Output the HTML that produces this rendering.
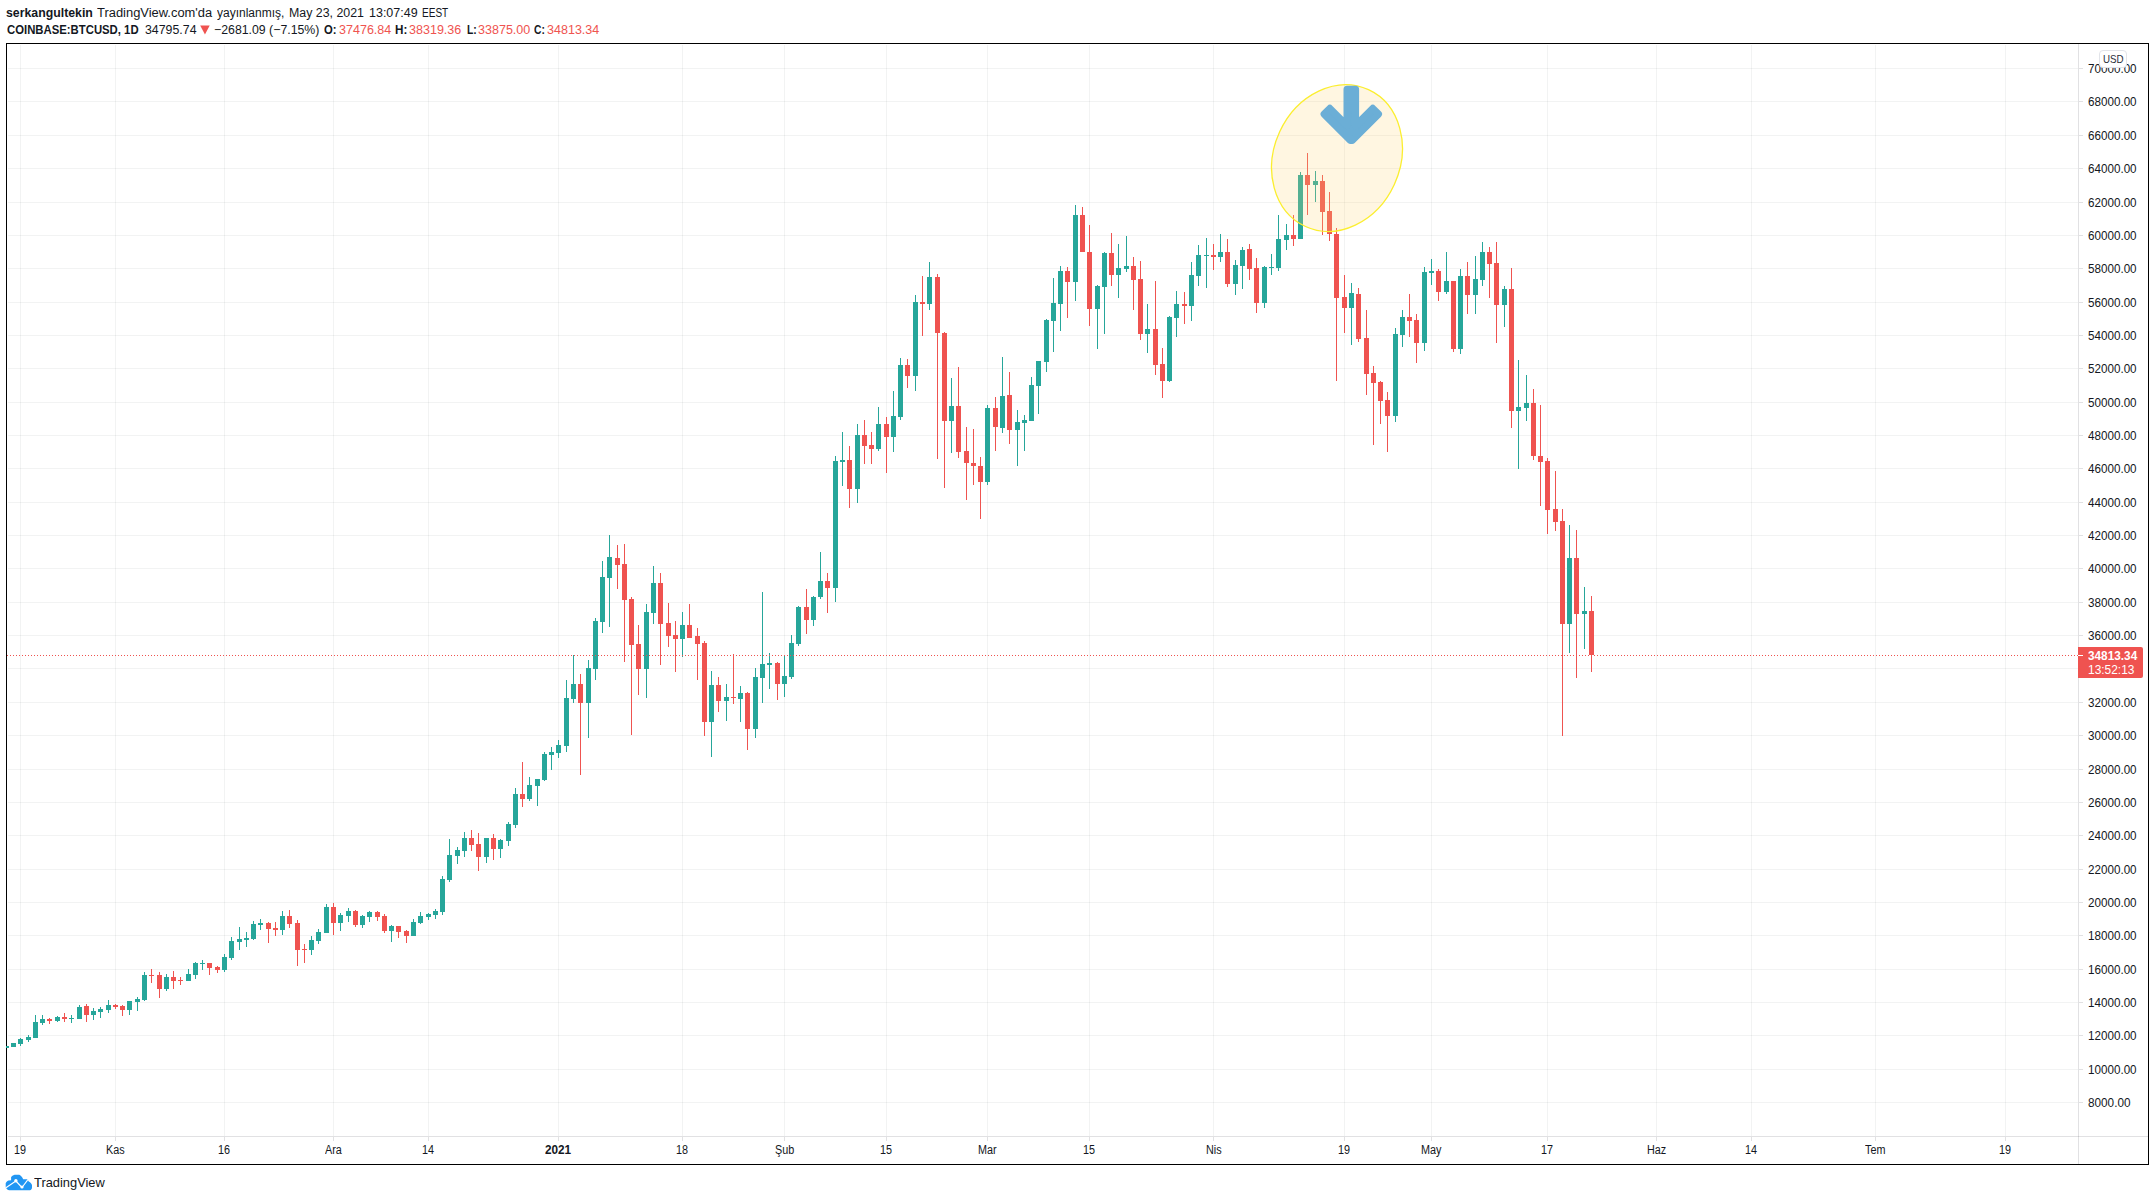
<!DOCTYPE html>
<html lang="tr"><head><meta charset="utf-8"><title>BTCUSD</title>
<style>
html,body{margin:0;padding:0;background:#fff;}
body{width:2155px;height:1201px;position:relative;overflow:hidden;font-family:"Liberation Sans", sans-serif;}
.t{position:absolute;white-space:pre;line-height:16px;transform-origin:0 50%;}
#box{position:absolute;left:6px;top:43px;width:2141px;height:1120px;border:1px solid #000;}
#plabel{position:absolute;left:2078px;top:647px;width:65px;height:31px;background:#ef5350;border-radius:0 2px 2px 0;}
#usd{position:absolute;left:2099px;top:50px;width:26px;height:16px;border:1px solid #e2e4e9;border-radius:4px;background:#fff;}
svg{position:absolute;left:0;top:0;}
</style></head><body>
<div id="box"></div>
<svg width="2155" height="1201" viewBox="0 0 2155 1201">
<g shape-rendering="crispEdges" fill="rgba(42,46,57,0.06)">
<rect x="8" y="68" width="2070" height="1"/>
<rect x="8" y="101" width="2070" height="1"/>
<rect x="8" y="135" width="2070" height="1"/>
<rect x="8" y="168" width="2070" height="1"/>
<rect x="8" y="202" width="2070" height="1"/>
<rect x="8" y="235" width="2070" height="1"/>
<rect x="8" y="268" width="2070" height="1"/>
<rect x="8" y="302" width="2070" height="1"/>
<rect x="8" y="335" width="2070" height="1"/>
<rect x="8" y="368" width="2070" height="1"/>
<rect x="8" y="402" width="2070" height="1"/>
<rect x="8" y="435" width="2070" height="1"/>
<rect x="8" y="468" width="2070" height="1"/>
<rect x="8" y="502" width="2070" height="1"/>
<rect x="8" y="535" width="2070" height="1"/>
<rect x="8" y="568" width="2070" height="1"/>
<rect x="8" y="602" width="2070" height="1"/>
<rect x="8" y="635" width="2070" height="1"/>
<rect x="8" y="668" width="2070" height="1"/>
<rect x="8" y="702" width="2070" height="1"/>
<rect x="8" y="735" width="2070" height="1"/>
<rect x="8" y="769" width="2070" height="1"/>
<rect x="8" y="802" width="2070" height="1"/>
<rect x="8" y="835" width="2070" height="1"/>
<rect x="8" y="869" width="2070" height="1"/>
<rect x="8" y="902" width="2070" height="1"/>
<rect x="8" y="935" width="2070" height="1"/>
<rect x="8" y="969" width="2070" height="1"/>
<rect x="8" y="1002" width="2070" height="1"/>
<rect x="8" y="1035" width="2070" height="1"/>
<rect x="8" y="1069" width="2070" height="1"/>
<rect x="8" y="1102" width="2070" height="1"/>
<rect x="20" y="45" width="1" height="1091"/>
<rect x="115" y="45" width="1" height="1091"/>
<rect x="224" y="45" width="1" height="1091"/>
<rect x="333" y="45" width="1" height="1091"/>
<rect x="428" y="45" width="1" height="1091"/>
<rect x="558" y="45" width="1" height="1091"/>
<rect x="682" y="45" width="1" height="1091"/>
<rect x="784" y="45" width="1" height="1091"/>
<rect x="886" y="45" width="1" height="1091"/>
<rect x="987" y="45" width="1" height="1091"/>
<rect x="1089" y="45" width="1" height="1091"/>
<rect x="1213" y="45" width="1" height="1091"/>
<rect x="1344" y="45" width="1" height="1091"/>
<rect x="1431" y="45" width="1" height="1091"/>
<rect x="1547" y="45" width="1" height="1091"/>
<rect x="1656" y="45" width="1" height="1091"/>
<rect x="1751" y="45" width="1" height="1091"/>
<rect x="1875" y="45" width="1" height="1091"/>
<rect x="2005" y="45" width="1" height="1091"/>
</g>
<g shape-rendering="crispEdges" fill="rgba(42,46,57,0.14)">
<rect x="2078" y="44" width="1" height="1120"/>
<rect x="8" y="1136" width="2140" height="1"/>
<rect x="2079" y="68" width="4" height="1"/>
<rect x="2079" y="101" width="4" height="1"/>
<rect x="2079" y="135" width="4" height="1"/>
<rect x="2079" y="168" width="4" height="1"/>
<rect x="2079" y="202" width="4" height="1"/>
<rect x="2079" y="235" width="4" height="1"/>
<rect x="2079" y="268" width="4" height="1"/>
<rect x="2079" y="302" width="4" height="1"/>
<rect x="2079" y="335" width="4" height="1"/>
<rect x="2079" y="368" width="4" height="1"/>
<rect x="2079" y="402" width="4" height="1"/>
<rect x="2079" y="435" width="4" height="1"/>
<rect x="2079" y="468" width="4" height="1"/>
<rect x="2079" y="502" width="4" height="1"/>
<rect x="2079" y="535" width="4" height="1"/>
<rect x="2079" y="568" width="4" height="1"/>
<rect x="2079" y="602" width="4" height="1"/>
<rect x="2079" y="635" width="4" height="1"/>
<rect x="2079" y="668" width="4" height="1"/>
<rect x="2079" y="702" width="4" height="1"/>
<rect x="2079" y="735" width="4" height="1"/>
<rect x="2079" y="769" width="4" height="1"/>
<rect x="2079" y="802" width="4" height="1"/>
<rect x="2079" y="835" width="4" height="1"/>
<rect x="2079" y="869" width="4" height="1"/>
<rect x="2079" y="902" width="4" height="1"/>
<rect x="2079" y="935" width="4" height="1"/>
<rect x="2079" y="969" width="4" height="1"/>
<rect x="2079" y="1002" width="4" height="1"/>
<rect x="2079" y="1035" width="4" height="1"/>
<rect x="2079" y="1069" width="4" height="1"/>
<rect x="2079" y="1102" width="4" height="1"/>
<rect x="20" y="1137" width="1" height="4"/>
<rect x="115" y="1137" width="1" height="4"/>
<rect x="224" y="1137" width="1" height="4"/>
<rect x="333" y="1137" width="1" height="4"/>
<rect x="428" y="1137" width="1" height="4"/>
<rect x="558" y="1137" width="1" height="4"/>
<rect x="682" y="1137" width="1" height="4"/>
<rect x="784" y="1137" width="1" height="4"/>
<rect x="886" y="1137" width="1" height="4"/>
<rect x="987" y="1137" width="1" height="4"/>
<rect x="1089" y="1137" width="1" height="4"/>
<rect x="1213" y="1137" width="1" height="4"/>
<rect x="1344" y="1137" width="1" height="4"/>
<rect x="1431" y="1137" width="1" height="4"/>
<rect x="1547" y="1137" width="1" height="4"/>
<rect x="1656" y="1137" width="1" height="4"/>
<rect x="1751" y="1137" width="1" height="4"/>
<rect x="1875" y="1137" width="1" height="4"/>
<rect x="2005" y="1137" width="1" height="4"/>
</g>
<g shape-rendering="crispEdges" fill="#26a69a"><rect x="6" y="1046" width="1" height="2"/><rect x="7" y="1046" width="2" height="2"/><rect x="13" y="1043" width="1" height="4"/><rect x="11" y="1043" width="5" height="4"/><rect x="20" y="1038" width="1" height="8"/><rect x="18" y="1039" width="5" height="5"/><rect x="28" y="1035" width="1" height="7"/><rect x="26" y="1037" width="5" height="3"/><rect x="35" y="1015" width="1" height="23"/><rect x="33" y="1022" width="5" height="16"/><rect x="42" y="1015" width="1" height="10"/><rect x="40" y="1019" width="5" height="4"/><rect x="57" y="1016" width="1" height="6"/><rect x="55" y="1017" width="5" height="4"/><rect x="71" y="1015" width="1" height="8"/><rect x="69" y="1018" width="5" height="1"/><rect x="79" y="1005" width="1" height="14"/><rect x="77" y="1007" width="5" height="12"/><rect x="93" y="1008" width="1" height="12"/><rect x="91" y="1011" width="5" height="4"/><rect x="100" y="1007" width="1" height="11"/><rect x="98" y="1009" width="5" height="3"/><rect x="108" y="1000" width="1" height="13"/><rect x="106" y="1005" width="5" height="5"/><rect x="129" y="1001" width="1" height="14"/><rect x="127" y="1001" width="5" height="9"/><rect x="137" y="997" width="1" height="14"/><rect x="135" y="999" width="5" height="3"/><rect x="144" y="972" width="1" height="29"/><rect x="142" y="975" width="5" height="25"/><rect x="166" y="974" width="1" height="17"/><rect x="164" y="977" width="5" height="12"/><rect x="188" y="969" width="1" height="12"/><rect x="186" y="974" width="5" height="7"/><rect x="195" y="962" width="1" height="17"/><rect x="193" y="963" width="5" height="12"/><rect x="202" y="960" width="1" height="10"/><rect x="200" y="963" width="5" height="1"/><rect x="224" y="954" width="1" height="18"/><rect x="222" y="957" width="5" height="13"/><rect x="231" y="937" width="1" height="23"/><rect x="229" y="941" width="5" height="17"/><rect x="239" y="927" width="1" height="23"/><rect x="237" y="939" width="5" height="3"/><rect x="246" y="932" width="1" height="15"/><rect x="244" y="938" width="5" height="2"/><rect x="253" y="921" width="1" height="19"/><rect x="251" y="924" width="5" height="15"/><rect x="260" y="919" width="1" height="11"/><rect x="258" y="923" width="5" height="2"/><rect x="282" y="911" width="1" height="24"/><rect x="280" y="916" width="5" height="14"/><rect x="311" y="936" width="1" height="19"/><rect x="309" y="940" width="5" height="10"/><rect x="318" y="929" width="1" height="15"/><rect x="316" y="932" width="5" height="9"/><rect x="326" y="904" width="1" height="29"/><rect x="324" y="907" width="5" height="26"/><rect x="340" y="913" width="1" height="18"/><rect x="338" y="915" width="5" height="8"/><rect x="348" y="908" width="1" height="14"/><rect x="346" y="911" width="5" height="5"/><rect x="362" y="915" width="1" height="13"/><rect x="360" y="916" width="5" height="9"/><rect x="369" y="911" width="1" height="11"/><rect x="367" y="912" width="5" height="5"/><rect x="391" y="925" width="1" height="17"/><rect x="389" y="926" width="5" height="5"/><rect x="413" y="919" width="1" height="17"/><rect x="411" y="922" width="5" height="14"/><rect x="420" y="912" width="1" height="12"/><rect x="418" y="916" width="5" height="7"/><rect x="428" y="913" width="1" height="7"/><rect x="426" y="914" width="5" height="3"/><rect x="435" y="909" width="1" height="10"/><rect x="433" y="911" width="5" height="4"/><rect x="442" y="876" width="1" height="39"/><rect x="440" y="879" width="5" height="33"/><rect x="449" y="839" width="1" height="43"/><rect x="447" y="855" width="5" height="25"/><rect x="457" y="847" width="1" height="17"/><rect x="455" y="850" width="5" height="6"/><rect x="464" y="832" width="1" height="25"/><rect x="462" y="838" width="5" height="13"/><rect x="486" y="838" width="1" height="25"/><rect x="484" y="838" width="5" height="19"/><rect x="500" y="839" width="1" height="19"/><rect x="498" y="840" width="5" height="9"/><rect x="508" y="822" width="1" height="24"/><rect x="506" y="824" width="5" height="17"/><rect x="515" y="788" width="1" height="40"/><rect x="513" y="794" width="5" height="31"/><rect x="529" y="777" width="1" height="24"/><rect x="527" y="785" width="5" height="14"/><rect x="537" y="779" width="1" height="27"/><rect x="535" y="779" width="5" height="7"/><rect x="544" y="752" width="1" height="29"/><rect x="542" y="754" width="5" height="26"/><rect x="551" y="747" width="1" height="23"/><rect x="549" y="752" width="5" height="3"/><rect x="558" y="740" width="1" height="18"/><rect x="556" y="745" width="5" height="8"/><rect x="566" y="680" width="1" height="72"/><rect x="564" y="698" width="5" height="48"/><rect x="573" y="655" width="1" height="48"/><rect x="571" y="684" width="5" height="15"/><rect x="588" y="660" width="1" height="78"/><rect x="586" y="668" width="5" height="35"/><rect x="595" y="618" width="1" height="62"/><rect x="593" y="621" width="5" height="48"/><rect x="602" y="561" width="1" height="72"/><rect x="600" y="577" width="5" height="45"/><rect x="609" y="535" width="1" height="92"/><rect x="607" y="557" width="5" height="21"/><rect x="646" y="604" width="1" height="94"/><rect x="644" y="612" width="5" height="57"/><rect x="653" y="566" width="1" height="58"/><rect x="651" y="583" width="5" height="30"/><rect x="682" y="612" width="1" height="45"/><rect x="680" y="625" width="5" height="14"/><rect x="711" y="671" width="1" height="86"/><rect x="709" y="685" width="5" height="37"/><rect x="726" y="684" width="1" height="37"/><rect x="724" y="697" width="5" height="4"/><rect x="740" y="686" width="1" height="36"/><rect x="738" y="693" width="5" height="6"/><rect x="755" y="668" width="1" height="70"/><rect x="753" y="677" width="5" height="52"/><rect x="762" y="592" width="1" height="111"/><rect x="760" y="664" width="5" height="14"/><rect x="769" y="653" width="1" height="36"/><rect x="767" y="663" width="5" height="2"/><rect x="784" y="656" width="1" height="41"/><rect x="782" y="676" width="5" height="8"/><rect x="791" y="635" width="1" height="44"/><rect x="789" y="643" width="5" height="34"/><rect x="798" y="606" width="1" height="40"/><rect x="796" y="607" width="5" height="37"/><rect x="813" y="596" width="1" height="30"/><rect x="811" y="597" width="5" height="23"/><rect x="820" y="552" width="1" height="47"/><rect x="818" y="581" width="5" height="16"/><rect x="835" y="456" width="1" height="146"/><rect x="833" y="461" width="5" height="127"/><rect x="842" y="432" width="1" height="54"/><rect x="840" y="460" width="5" height="2"/><rect x="857" y="424" width="1" height="79"/><rect x="855" y="435" width="5" height="54"/><rect x="878" y="407" width="1" height="44"/><rect x="876" y="424" width="5" height="25"/><rect x="893" y="391" width="1" height="61"/><rect x="891" y="416" width="5" height="21"/><rect x="900" y="358" width="1" height="62"/><rect x="898" y="365" width="5" height="52"/><rect x="915" y="295" width="1" height="96"/><rect x="913" y="302" width="5" height="74"/><rect x="929" y="262" width="1" height="48"/><rect x="927" y="277" width="5" height="27"/><rect x="951" y="378" width="1" height="75"/><rect x="949" y="406" width="5" height="15"/><rect x="987" y="405" width="1" height="80"/><rect x="985" y="408" width="5" height="74"/><rect x="1002" y="357" width="1" height="76"/><rect x="1000" y="396" width="5" height="32"/><rect x="1017" y="410" width="1" height="56"/><rect x="1015" y="422" width="5" height="8"/><rect x="1024" y="415" width="1" height="36"/><rect x="1022" y="420" width="5" height="3"/><rect x="1031" y="377" width="1" height="44"/><rect x="1029" y="385" width="5" height="36"/><rect x="1038" y="361" width="1" height="53"/><rect x="1036" y="361" width="5" height="25"/><rect x="1046" y="319" width="1" height="53"/><rect x="1044" y="320" width="5" height="42"/><rect x="1053" y="278" width="1" height="74"/><rect x="1051" y="303" width="5" height="18"/><rect x="1060" y="266" width="1" height="65"/><rect x="1058" y="271" width="5" height="33"/><rect x="1075" y="205" width="1" height="96"/><rect x="1073" y="215" width="5" height="67"/><rect x="1097" y="285" width="1" height="64"/><rect x="1095" y="286" width="5" height="23"/><rect x="1104" y="252" width="1" height="82"/><rect x="1102" y="253" width="5" height="34"/><rect x="1118" y="244" width="1" height="54"/><rect x="1116" y="268" width="5" height="7"/><rect x="1126" y="236" width="1" height="36"/><rect x="1124" y="266" width="5" height="3"/><rect x="1147" y="304" width="1" height="49"/><rect x="1145" y="329" width="5" height="5"/><rect x="1169" y="316" width="1" height="66"/><rect x="1167" y="317" width="5" height="64"/><rect x="1176" y="291" width="1" height="46"/><rect x="1174" y="304" width="5" height="14"/><rect x="1191" y="262" width="1" height="59"/><rect x="1189" y="275" width="5" height="31"/><rect x="1198" y="245" width="1" height="41"/><rect x="1196" y="255" width="5" height="21"/><rect x="1206" y="238" width="1" height="50"/><rect x="1204" y="255" width="5" height="1"/><rect x="1220" y="234" width="1" height="28"/><rect x="1218" y="252" width="5" height="5"/><rect x="1235" y="260" width="1" height="35"/><rect x="1233" y="265" width="5" height="19"/><rect x="1242" y="247" width="1" height="42"/><rect x="1240" y="250" width="5" height="16"/><rect x="1264" y="266" width="1" height="42"/><rect x="1262" y="267" width="5" height="36"/><rect x="1271" y="254" width="1" height="21"/><rect x="1269" y="267" width="5" height="1"/><rect x="1278" y="215" width="1" height="56"/><rect x="1276" y="239" width="5" height="29"/><rect x="1286" y="224" width="1" height="26"/><rect x="1284" y="235" width="5" height="5"/><rect x="1300" y="172" width="1" height="67"/><rect x="1298" y="175" width="5" height="64"/><rect x="1315" y="171" width="1" height="31"/><rect x="1313" y="181" width="5" height="4"/><rect x="1351" y="283" width="1" height="62"/><rect x="1349" y="293" width="5" height="15"/><rect x="1395" y="328" width="1" height="94"/><rect x="1393" y="334" width="5" height="82"/><rect x="1402" y="310" width="1" height="37"/><rect x="1400" y="317" width="5" height="18"/><rect x="1424" y="267" width="1" height="84"/><rect x="1422" y="272" width="5" height="71"/><rect x="1431" y="259" width="1" height="26"/><rect x="1429" y="271" width="5" height="2"/><rect x="1446" y="252" width="1" height="42"/><rect x="1444" y="281" width="5" height="11"/><rect x="1460" y="269" width="1" height="85"/><rect x="1458" y="276" width="5" height="73"/><rect x="1475" y="256" width="1" height="58"/><rect x="1473" y="279" width="5" height="16"/><rect x="1482" y="242" width="1" height="44"/><rect x="1480" y="252" width="5" height="28"/><rect x="1504" y="286" width="1" height="41"/><rect x="1502" y="289" width="5" height="16"/><rect x="1518" y="360" width="1" height="109"/><rect x="1516" y="407" width="5" height="4"/><rect x="1526" y="375" width="1" height="46"/><rect x="1524" y="403" width="5" height="5"/><rect x="1569" y="525" width="1" height="128"/><rect x="1567" y="558" width="5" height="66"/><rect x="1584" y="587" width="1" height="62"/><rect x="1582" y="611" width="5" height="3"/></g>
<g shape-rendering="crispEdges" fill="#ef5350"><rect x="49" y="1018" width="1" height="6"/><rect x="47" y="1019" width="5" height="2"/><rect x="64" y="1013" width="1" height="9"/><rect x="62" y="1017" width="5" height="2"/><rect x="86" y="1004" width="1" height="18"/><rect x="84" y="1006" width="5" height="9"/><rect x="115" y="1004" width="1" height="5"/><rect x="113" y="1005" width="5" height="2"/><rect x="122" y="1005" width="1" height="11"/><rect x="120" y="1006" width="5" height="4"/><rect x="151" y="969" width="1" height="14"/><rect x="149" y="975" width="5" height="1"/><rect x="159" y="972" width="1" height="26"/><rect x="157" y="975" width="5" height="14"/><rect x="173" y="971" width="1" height="18"/><rect x="171" y="977" width="5" height="4"/><rect x="180" y="977" width="1" height="8"/><rect x="178" y="980" width="5" height="1"/><rect x="209" y="963" width="1" height="12"/><rect x="207" y="963" width="5" height="5"/><rect x="217" y="966" width="1" height="7"/><rect x="215" y="967" width="5" height="3"/><rect x="268" y="922" width="1" height="21"/><rect x="266" y="923" width="5" height="6"/><rect x="275" y="922" width="1" height="14"/><rect x="273" y="928" width="5" height="2"/><rect x="289" y="910" width="1" height="18"/><rect x="287" y="916" width="5" height="8"/><rect x="297" y="920" width="1" height="46"/><rect x="295" y="923" width="5" height="27"/><rect x="304" y="944" width="1" height="19"/><rect x="302" y="949" width="5" height="1"/><rect x="333" y="903" width="1" height="32"/><rect x="331" y="907" width="5" height="16"/><rect x="355" y="910" width="1" height="17"/><rect x="353" y="911" width="5" height="14"/><rect x="377" y="911" width="1" height="10"/><rect x="375" y="912" width="5" height="5"/><rect x="384" y="914" width="1" height="19"/><rect x="382" y="916" width="5" height="15"/><rect x="398" y="926" width="1" height="12"/><rect x="396" y="926" width="5" height="6"/><rect x="406" y="930" width="1" height="13"/><rect x="404" y="931" width="5" height="5"/><rect x="471" y="830" width="1" height="21"/><rect x="469" y="838" width="5" height="7"/><rect x="478" y="833" width="1" height="38"/><rect x="476" y="844" width="5" height="13"/><rect x="493" y="834" width="1" height="26"/><rect x="491" y="838" width="5" height="11"/><rect x="522" y="762" width="1" height="45"/><rect x="520" y="794" width="5" height="5"/><rect x="580" y="674" width="1" height="101"/><rect x="578" y="684" width="5" height="19"/><rect x="617" y="545" width="1" height="44"/><rect x="615" y="558" width="5" height="7"/><rect x="624" y="544" width="1" height="118"/><rect x="622" y="564" width="5" height="36"/><rect x="631" y="597" width="1" height="138"/><rect x="629" y="599" width="5" height="46"/><rect x="638" y="625" width="1" height="70"/><rect x="636" y="644" width="5" height="25"/><rect x="660" y="573" width="1" height="92"/><rect x="658" y="583" width="5" height="41"/><rect x="668" y="603" width="1" height="44"/><rect x="666" y="623" width="5" height="13"/><rect x="675" y="621" width="1" height="51"/><rect x="673" y="635" width="5" height="4"/><rect x="689" y="604" width="1" height="34"/><rect x="687" y="625" width="5" height="13"/><rect x="697" y="628" width="1" height="52"/><rect x="695" y="636" width="5" height="8"/><rect x="704" y="641" width="1" height="95"/><rect x="702" y="643" width="5" height="79"/><rect x="718" y="677" width="1" height="35"/><rect x="716" y="685" width="5" height="16"/><rect x="733" y="654" width="1" height="50"/><rect x="731" y="697" width="5" height="1"/><rect x="747" y="692" width="1" height="58"/><rect x="745" y="693" width="5" height="36"/><rect x="777" y="662" width="1" height="38"/><rect x="775" y="663" width="5" height="21"/><rect x="806" y="589" width="1" height="45"/><rect x="804" y="607" width="5" height="13"/><rect x="827" y="573" width="1" height="40"/><rect x="825" y="581" width="5" height="7"/><rect x="849" y="446" width="1" height="62"/><rect x="847" y="460" width="5" height="29"/><rect x="864" y="420" width="1" height="44"/><rect x="862" y="435" width="5" height="11"/><rect x="871" y="432" width="1" height="32"/><rect x="869" y="445" width="5" height="4"/><rect x="886" y="417" width="1" height="56"/><rect x="884" y="424" width="5" height="13"/><rect x="907" y="359" width="1" height="29"/><rect x="905" y="365" width="5" height="11"/><rect x="922" y="276" width="1" height="60"/><rect x="920" y="302" width="5" height="2"/><rect x="937" y="274" width="1" height="185"/><rect x="935" y="277" width="5" height="56"/><rect x="944" y="332" width="1" height="156"/><rect x="942" y="333" width="5" height="88"/><rect x="958" y="367" width="1" height="91"/><rect x="956" y="406" width="5" height="46"/><rect x="966" y="427" width="1" height="73"/><rect x="964" y="451" width="5" height="12"/><rect x="973" y="429" width="1" height="56"/><rect x="971" y="463" width="5" height="3"/><rect x="980" y="457" width="1" height="62"/><rect x="978" y="466" width="5" height="16"/><rect x="995" y="397" width="1" height="54"/><rect x="993" y="408" width="5" height="19"/><rect x="1009" y="372" width="1" height="72"/><rect x="1007" y="395" width="5" height="35"/><rect x="1067" y="267" width="1" height="51"/><rect x="1065" y="271" width="5" height="11"/><rect x="1082" y="207" width="1" height="45"/><rect x="1080" y="215" width="5" height="37"/><rect x="1089" y="225" width="1" height="101"/><rect x="1087" y="252" width="5" height="57"/><rect x="1111" y="233" width="1" height="53"/><rect x="1109" y="253" width="5" height="22"/><rect x="1133" y="257" width="1" height="53"/><rect x="1131" y="266" width="5" height="14"/><rect x="1140" y="261" width="1" height="79"/><rect x="1138" y="279" width="5" height="55"/><rect x="1155" y="281" width="1" height="94"/><rect x="1153" y="329" width="5" height="36"/><rect x="1162" y="348" width="1" height="50"/><rect x="1160" y="364" width="5" height="17"/><rect x="1184" y="292" width="1" height="32"/><rect x="1182" y="304" width="5" height="2"/><rect x="1213" y="244" width="1" height="26"/><rect x="1211" y="255" width="5" height="2"/><rect x="1227" y="239" width="1" height="48"/><rect x="1225" y="252" width="5" height="32"/><rect x="1249" y="244" width="1" height="36"/><rect x="1247" y="249" width="5" height="20"/><rect x="1256" y="258" width="1" height="55"/><rect x="1254" y="268" width="5" height="35"/><rect x="1293" y="215" width="1" height="31"/><rect x="1291" y="235" width="5" height="4"/><rect x="1307" y="153" width="1" height="62"/><rect x="1305" y="175" width="5" height="10"/><rect x="1322" y="175" width="1" height="60"/><rect x="1320" y="181" width="5" height="31"/><rect x="1329" y="192" width="1" height="49"/><rect x="1327" y="211" width="5" height="23"/><rect x="1336" y="228" width="1" height="153"/><rect x="1334" y="234" width="5" height="64"/><rect x="1344" y="275" width="1" height="58"/><rect x="1342" y="297" width="5" height="11"/><rect x="1358" y="288" width="1" height="54"/><rect x="1356" y="294" width="5" height="45"/><rect x="1366" y="310" width="1" height="85"/><rect x="1364" y="338" width="5" height="36"/><rect x="1373" y="366" width="1" height="79"/><rect x="1371" y="373" width="5" height="10"/><rect x="1380" y="381" width="1" height="43"/><rect x="1378" y="382" width="5" height="19"/><rect x="1387" y="392" width="1" height="60"/><rect x="1385" y="400" width="5" height="16"/><rect x="1409" y="294" width="1" height="43"/><rect x="1407" y="317" width="5" height="4"/><rect x="1416" y="314" width="1" height="49"/><rect x="1414" y="320" width="5" height="23"/><rect x="1438" y="269" width="1" height="32"/><rect x="1436" y="271" width="5" height="21"/><rect x="1453" y="281" width="1" height="71"/><rect x="1451" y="281" width="5" height="68"/><rect x="1467" y="262" width="1" height="52"/><rect x="1465" y="276" width="5" height="19"/><rect x="1489" y="247" width="1" height="51"/><rect x="1487" y="252" width="5" height="12"/><rect x="1496" y="242" width="1" height="101"/><rect x="1494" y="263" width="5" height="42"/><rect x="1511" y="268" width="1" height="160"/><rect x="1509" y="289" width="5" height="122"/><rect x="1533" y="389" width="1" height="71"/><rect x="1531" y="403" width="5" height="53"/><rect x="1540" y="405" width="1" height="101"/><rect x="1538" y="456" width="5" height="6"/><rect x="1547" y="458" width="1" height="76"/><rect x="1545" y="461" width="5" height="49"/><rect x="1555" y="471" width="1" height="60"/><rect x="1553" y="509" width="5" height="13"/><rect x="1562" y="509" width="1" height="227"/><rect x="1560" y="521" width="5" height="103"/><rect x="1576" y="530" width="1" height="148"/><rect x="1574" y="558" width="5" height="56"/><rect x="1591" y="596" width="1" height="76"/><rect x="1589" y="611" width="5" height="44"/></g>
<line x1="7" y1="655.5" x2="2078" y2="655.5" stroke="#ef5350" stroke-width="1" stroke-dasharray="1 2" shape-rendering="crispEdges"/>
<ellipse cx="1337" cy="158.1" rx="63.1" ry="75.3" transform="rotate(24.7 1337 158.1)" fill="rgba(255,215,120,0.22)" stroke="#fbee2f" stroke-width="1.3"/>
<polygon points="1347.10,89.40 1355.50,89.40 1355.50,125.69 1372.75,108.44 1378.41,114.10 1352.14,140.37 1350.46,140.37 1324.19,114.10 1329.85,108.44 1347.10,125.69" fill="#6baed6" stroke="#6baed6" stroke-width="7.2" stroke-linejoin="round"/>
<polygon points="200.2,25.6 209.7,25.6 204.95,34.6" fill="#ef5350"/>
<g transform="translate(5.7,1174.7)"><path d="M3.6,15.6 L24.2,15.6 C25.5,15.3 26.3,14.2 26.3,12.8 L26.3,10.2 C25.6,8.6 24.3,7.2 22.8,6.5 L21.9,4.5 L17.5,4.5 C16.6,2.4 15.2,0.7 13.6,0 L8.9,0 C7.2,0.5 6,1.4 5.4,2.4 L5.4,5.5 L2.8,5.7 C1.3,6.4 0.4,7.4 0,8.6 L0,12.6 C0.5,14.2 1.9,15.3 3.6,15.6 Z" fill="#2196f3"/><polyline points="0.2,13.1 10.2,6.3 16.3,12.8 22.4,4.6" fill="none" stroke="#fff" stroke-width="1.1" stroke-linejoin="round"/><circle cx="10.2" cy="6.0" r="1.7" fill="#fff"/><circle cx="16.3" cy="12.3" r="1.6" fill="#fff"/></g>
</svg>
<div id="plabel"><div style="position:absolute;left:0;top:8px;width:5px;height:1px;background:#fff"></div></div>
<span class="t" style="left:6.30px;top:5.27px;font-size:12.5px;color:#131722;font-weight:700;transform:scaleX(0.9849);">serkangultekin</span>
<span class="t" style="left:97.40px;top:5.27px;font-size:12.5px;color:#131722;transform:scaleX(1.0333);">TradingView.com'da</span>
<span class="t" style="left:216.50px;top:5.27px;font-size:12.5px;color:#131722;transform:scaleX(0.9605);">yayınlanmış,</span>
<span class="t" style="left:288.60px;top:5.27px;font-size:12.5px;color:#131722;transform:scaleX(0.9901);">May 23, 2021</span>
<span class="t" style="left:368.80px;top:5.27px;font-size:12.5px;color:#131722;transform:scaleX(0.9985);">13:07:49</span>
<span class="t" style="left:422.00px;top:5.27px;font-size:12.5px;color:#131722;transform:scaleX(0.8023);">EEST</span>
<span class="t" style="left:6.50px;top:22.47px;font-size:12.5px;color:#131722;font-weight:700;transform:scaleX(0.9066);">COINBASE:BTCUSD, 1D</span>
<span class="t" style="left:144.80px;top:22.47px;font-size:12.5px;color:#131722;transform:scaleX(0.9877);">34795.74</span>
<span class="t" style="left:214.30px;top:22.47px;font-size:12.5px;color:#131722;transform:scaleX(0.9848);">−2681.09 (−7.15%)</span>
<span class="t" style="left:324.20px;top:22.47px;font-size:12.5px;color:#131722;font-weight:700;transform:scaleX(0.8999);">O:</span>
<span class="t" style="left:338.50px;top:22.47px;font-size:12.5px;color:#ef5350;transform:scaleX(1.0031);">37476.84</span>
<span class="t" style="left:395.40px;top:22.47px;font-size:12.5px;color:#131722;font-weight:700;transform:scaleX(0.9316);">H:</span>
<span class="t" style="left:409.40px;top:22.47px;font-size:12.5px;color:#ef5350;transform:scaleX(1.0031);">38319.36</span>
<span class="t" style="left:466.50px;top:22.47px;font-size:12.5px;color:#131722;font-weight:700;transform:scaleX(0.8296);">L:</span>
<span class="t" style="left:477.60px;top:22.47px;font-size:12.5px;color:#ef5350;transform:scaleX(1.0031);">33875.00</span>
<span class="t" style="left:534.40px;top:22.47px;font-size:12.5px;color:#131722;font-weight:700;transform:scaleX(0.8180);">C:</span>
<span class="t" style="left:546.50px;top:22.47px;font-size:12.5px;color:#ef5350;transform:scaleX(1.0031);">34813.34</span>
<span class="t" style="left:2088.30px;top:60.64px;font-size:12px;color:#131722;transform:scaleX(0.9708);">70000.00</span>
<span class="t" style="left:2088.30px;top:93.64px;font-size:12px;color:#131722;transform:scaleX(0.9708);">68000.00</span>
<span class="t" style="left:2088.30px;top:127.64px;font-size:12px;color:#131722;transform:scaleX(0.9708);">66000.00</span>
<span class="t" style="left:2088.30px;top:160.64px;font-size:12px;color:#131722;transform:scaleX(0.9708);">64000.00</span>
<span class="t" style="left:2088.30px;top:194.64px;font-size:12px;color:#131722;transform:scaleX(0.9708);">62000.00</span>
<span class="t" style="left:2088.30px;top:227.64px;font-size:12px;color:#131722;transform:scaleX(0.9708);">60000.00</span>
<span class="t" style="left:2088.30px;top:260.64px;font-size:12px;color:#131722;transform:scaleX(0.9708);">58000.00</span>
<span class="t" style="left:2088.30px;top:294.64px;font-size:12px;color:#131722;transform:scaleX(0.9708);">56000.00</span>
<span class="t" style="left:2088.30px;top:327.64px;font-size:12px;color:#131722;transform:scaleX(0.9708);">54000.00</span>
<span class="t" style="left:2088.30px;top:360.64px;font-size:12px;color:#131722;transform:scaleX(0.9708);">52000.00</span>
<span class="t" style="left:2088.30px;top:394.64px;font-size:12px;color:#131722;transform:scaleX(0.9708);">50000.00</span>
<span class="t" style="left:2088.30px;top:427.64px;font-size:12px;color:#131722;transform:scaleX(0.9708);">48000.00</span>
<span class="t" style="left:2088.30px;top:460.64px;font-size:12px;color:#131722;transform:scaleX(0.9708);">46000.00</span>
<span class="t" style="left:2088.30px;top:494.64px;font-size:12px;color:#131722;transform:scaleX(0.9708);">44000.00</span>
<span class="t" style="left:2088.30px;top:527.64px;font-size:12px;color:#131722;transform:scaleX(0.9708);">42000.00</span>
<span class="t" style="left:2088.30px;top:560.64px;font-size:12px;color:#131722;transform:scaleX(0.9708);">40000.00</span>
<span class="t" style="left:2088.30px;top:594.64px;font-size:12px;color:#131722;transform:scaleX(0.9708);">38000.00</span>
<span class="t" style="left:2088.30px;top:627.64px;font-size:12px;color:#131722;transform:scaleX(0.9708);">36000.00</span>
<span class="t" style="left:2088.30px;top:694.64px;font-size:12px;color:#131722;transform:scaleX(0.9708);">32000.00</span>
<span class="t" style="left:2088.30px;top:727.64px;font-size:12px;color:#131722;transform:scaleX(0.9708);">30000.00</span>
<span class="t" style="left:2088.30px;top:761.64px;font-size:12px;color:#131722;transform:scaleX(0.9708);">28000.00</span>
<span class="t" style="left:2088.30px;top:794.64px;font-size:12px;color:#131722;transform:scaleX(0.9708);">26000.00</span>
<span class="t" style="left:2088.30px;top:827.64px;font-size:12px;color:#131722;transform:scaleX(0.9708);">24000.00</span>
<span class="t" style="left:2088.30px;top:861.64px;font-size:12px;color:#131722;transform:scaleX(0.9708);">22000.00</span>
<span class="t" style="left:2088.30px;top:894.64px;font-size:12px;color:#131722;transform:scaleX(0.9708);">20000.00</span>
<span class="t" style="left:2088.30px;top:927.64px;font-size:12px;color:#131722;transform:scaleX(0.9708);">18000.00</span>
<span class="t" style="left:2088.30px;top:961.64px;font-size:12px;color:#131722;transform:scaleX(0.9708);">16000.00</span>
<span class="t" style="left:2088.30px;top:994.64px;font-size:12px;color:#131722;transform:scaleX(0.9708);">14000.00</span>
<span class="t" style="left:2088.30px;top:1027.64px;font-size:12px;color:#131722;transform:scaleX(0.9708);">12000.00</span>
<span class="t" style="left:2088.30px;top:1061.64px;font-size:12px;color:#131722;transform:scaleX(0.9708);">10000.00</span>
<span class="t" style="left:2088.30px;top:1094.64px;font-size:12px;color:#131722;transform:scaleX(0.9795);">8000.00</span>
<span class="t" style="left:14.49px;top:1141.84px;font-size:12px;color:#131722;transform:scaleX(0.9000);">19</span>
<span class="t" style="left:106.19px;top:1141.84px;font-size:12px;color:#131722;transform:scaleX(0.9000);">Kas</span>
<span class="t" style="left:218.49px;top:1141.84px;font-size:12px;color:#131722;transform:scaleX(0.9000);">16</span>
<span class="t" style="left:325.09px;top:1141.84px;font-size:12px;color:#131722;transform:scaleX(0.9000);">Ara</span>
<span class="t" style="left:422.49px;top:1141.84px;font-size:12px;color:#131722;transform:scaleX(0.9000);">14</span>
<span class="t" style="left:545.42px;top:1141.84px;font-size:12px;color:#131722;font-weight:700;transform:scaleX(0.9800);">2021</span>
<span class="t" style="left:676.49px;top:1141.84px;font-size:12px;color:#131722;transform:scaleX(0.9000);">18</span>
<span class="t" style="left:774.89px;top:1141.84px;font-size:12px;color:#131722;transform:scaleX(0.9000);">Şub</span>
<span class="t" style="left:880.49px;top:1141.84px;font-size:12px;color:#131722;transform:scaleX(0.9000);">15</span>
<span class="t" style="left:978.20px;top:1141.84px;font-size:12px;color:#131722;transform:scaleX(0.9000);">Mar</span>
<span class="t" style="left:1083.49px;top:1141.84px;font-size:12px;color:#131722;transform:scaleX(0.9000);">15</span>
<span class="t" style="left:1205.70px;top:1141.84px;font-size:12px;color:#131722;transform:scaleX(0.9000);">Nis</span>
<span class="t" style="left:1338.49px;top:1141.84px;font-size:12px;color:#131722;transform:scaleX(0.9000);">19</span>
<span class="t" style="left:1421.30px;top:1141.84px;font-size:12px;color:#131722;transform:scaleX(0.9000);">May</span>
<span class="t" style="left:1541.49px;top:1141.84px;font-size:12px;color:#131722;transform:scaleX(0.9000);">17</span>
<span class="t" style="left:1646.90px;top:1141.84px;font-size:12px;color:#131722;transform:scaleX(0.9000);">Haz</span>
<span class="t" style="left:1745.49px;top:1141.84px;font-size:12px;color:#131722;transform:scaleX(0.9000);">14</span>
<span class="t" style="left:1865.30px;top:1141.84px;font-size:12px;color:#131722;transform:scaleX(0.9000);">Tem</span>
<span class="t" style="left:1999.49px;top:1141.84px;font-size:12px;color:#131722;transform:scaleX(0.9000);">19</span>
<span class="t" style="left:2087.80px;top:647.94px;font-size:12px;color:#ffffff;font-weight:700;transform:scaleX(0.9828);">34813.34</span>
<span class="t" style="left:2088.20px;top:661.84px;font-size:12px;color:#ffffff;transform:scaleX(0.9932);">13:52:13</span>
<div id="usd"></div>
<span class="t" style="left:2102.50px;top:50.99px;font-size:11px;color:#2a2e39;transform:scaleX(0.8866);">USD</span>
<span class="t" style="left:33.90px;top:1174.70px;font-size:13px;color:#131722;transform:scaleX(0.9896);">TradingView</span>
</body></html>
